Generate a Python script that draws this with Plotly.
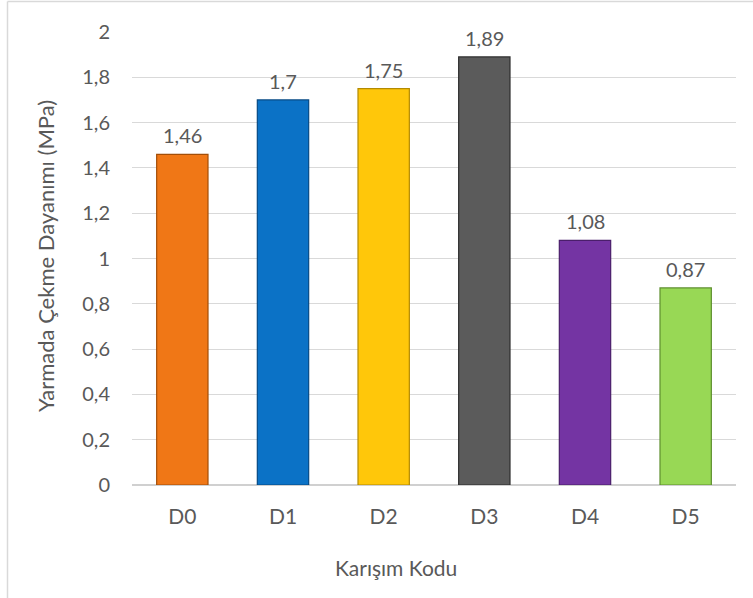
import plotly.graph_objects as go

# Split tensile strength per mix code
mix_codes = ["D0", "D1", "D2", "D3", "D4", "D5"]
strength_mpa = [1.46, 1.70, 1.75, 1.89, 1.08, 0.87]
value_labels = ["1,46", "1,7", "1,75", "1,89", "1,08", "0,87"]
fill_colors = ["#F07716", "#0B72C6", "#FFC70A", "#5B5B5B", "#7434A3", "#98D855"]
edge_colors = ["#A34E08", "#064A85", "#B38A00", "#2E2E2E", "#4A1E6B", "#5E8F2E"]

y_ticks = [0, 0.2, 0.4, 0.6, 0.8, 1.0, 1.2, 1.4, 1.6, 1.8, 2.0]

text_color = "#595959"
font_family = "Lato, 'Open Sans', sans-serif"

fig = go.Figure()
fig.add_trace(go.Bar(
    x=mix_codes,
    y=strength_mpa,
    marker=dict(color=fill_colors, line=dict(color=edge_colors, width=1.2)),
    width=0.51,
    hoverinfo="x+y",
    showlegend=False,
))

for code, val, lab in zip(mix_codes, strength_mpa, value_labels):
    fig.add_annotation(
        x=code, y=val, text=lab, showarrow=False,
        yanchor="bottom", yshift=5,
        font=dict(size=20, color=text_color, family=font_family),
    )

plot_left, plot_right = 132, 736
plot_w = plot_right - plot_left
plot_top, plot_bottom = 32, 485
plot_h = plot_bottom - plot_top


def px_to_paper_x(px):
    return (px - plot_left) / plot_w


def px_to_paper_y(py):
    return (plot_bottom - py) / plot_h


# Axis titles
fig.add_annotation(
    xref="paper", yref="paper",
    x=px_to_paper_x(396), y=px_to_paper_y(567),
    xanchor="center", yanchor="middle",
    text="Karışım Kodu", showarrow=False,
    font=dict(size=21, color=text_color, family=font_family),
)
fig.add_annotation(
    xref="paper", yref="paper",
    x=px_to_paper_x(45), y=px_to_paper_y(256),
    xanchor="center", yanchor="middle", textangle=-90,
    text="Yarmada Çekme Dayanımı (MPa)", showarrow=False,
    font=dict(size=22, color=text_color, family=font_family),
)

# Chart frame (left and top edges)
fig.add_shape(type="line", xref="paper", yref="paper",
              x0=px_to_paper_x(7.5), x1=px_to_paper_x(7.5),
              y0=px_to_paper_y(1.5), y1=px_to_paper_y(600),
              line=dict(color="#D9D9D9", width=1.5))
fig.add_shape(type="line", xref="paper", yref="paper",
              x0=px_to_paper_x(7.5), x1=px_to_paper_x(760),
              y0=px_to_paper_y(1.5), y1=px_to_paper_y(1.5),
              line=dict(color="#D9D9D9", width=1.5))

fig.update_layout(
    width=753, height=598,
    margin=dict(l=plot_left, r=753 - plot_right, t=plot_top, b=598 - plot_bottom),
    paper_bgcolor="white",
    plot_bgcolor="white",
    separators=",.",
    font=dict(family=font_family, color=text_color, size=20),
    xaxis=dict(
        showgrid=False,
        showline=False,
        ticks="outside", ticklen=13, tickcolor="rgba(0,0,0,0)",
        tickfont=dict(size=21, color=text_color),
    ),
    yaxis=dict(
        range=[0, 2.0],
        tickvals=y_ticks,
        ticktext=[f"{v:g}".replace(".", ",") for v in y_ticks],
        showgrid=True, gridcolor="#D9D9D9", gridwidth=1,
        zeroline=True, zerolinecolor="#D0D0D0", zerolinewidth=1.5,
        showline=False,
        ticks="outside", ticklen=17, tickcolor="rgba(0,0,0,0)",
        tickfont=dict(size=20, color=text_color),
    ),
)

fig.write_html("out.html")
